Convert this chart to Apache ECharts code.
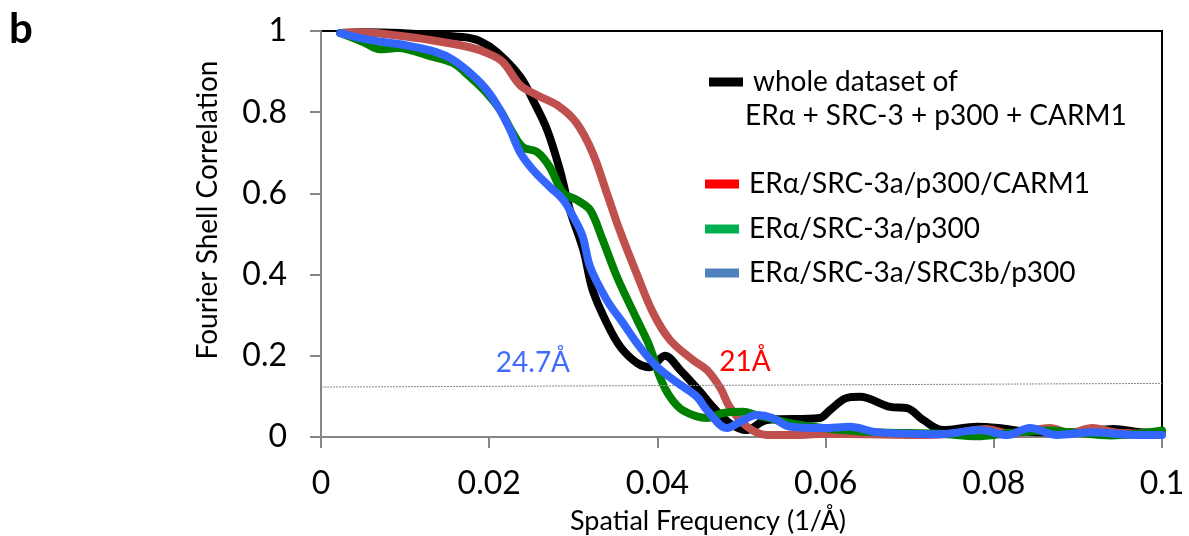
<!DOCTYPE html>
<html>
<head>
<meta charset="utf-8">
<script src="https://cdn.jsdelivr.net/npm/echarts@6/dist/echarts.min.js"></script>
<style>
    html, body {margin: 0; padding: 0; background: #fff;}
    #fscChart {width: 1189px; height: 536px;}
</style>
</head>
<body>
<div id="fscChart"></div>
<script>
// FSC curves, [spatial frequency (1/Å), correlation]
const wholeData = [[0.0023, 0.995], [0.005, 0.997], [0.0094, 0.995], [0.0169, 0.985], [0.0189, 0.975], [0.0209, 0.948]
    , [0.0237, 0.887], [0.0252, 0.83], [0.0269, 0.756], [0.0284, 0.658], [0.0296, 0.559], [0.0312, 0.46], [0.0323, 0.362]
    , [0.034, 0.28], [0.0356, 0.222], [0.0376, 0.182], [0.0391, 0.172], [0.0409, 0.2], [0.0427, 0.165], [0.0451, 0.111]
    , [0.0466, 0.074], [0.0486, 0.034], [0.0506, 0.017], [0.053, 0.042], [0.0593, 0.047], [0.0605, 0.066], [0.0625, 0.096]
    , [0.0641, 0.099], [0.0677, 0.074], [0.0697, 0.071], [0.0716, 0.042], [0.074, 0.017], [0.078, 0.025]
    , [0.0805, 0.022], [0.085, 0.012], [0.09, 0.012], [0.0942, 0.02], [0.0974, 0.012], [0.1, 0.01]];
const carm1Data = [[0.0023, 0.995], [0.005, 0.997], [0.0085, 0.99], [0.013, 0.978], [0.0177, 0.96], [0.0197, 0.946]
    , [0.0216, 0.924], [0.0237, 0.866], [0.0257, 0.842], [0.0284, 0.813], [0.0304, 0.773], [0.0323, 0.7], [0.034, 0.6]
    , [0.0355, 0.51], [0.0375, 0.404], [0.0395, 0.305], [0.0415, 0.239], [0.0442, 0.19], [0.0459, 0.165], [0.0475, 0.12]
    , [0.0486, 0.074], [0.0507, 0.025], [0.053, 0.005], [0.057, 0.005], [0.06, 0.008], [0.07, 0.005], [0.075, 0.008]
    , [0.079, 0.02], [0.082, 0.008], [0.0867, 0.022], [0.089, 0.01], [0.0917, 0.022], [0.095, 0.01], [0.1, 0.008]];
const p300Data = [[0.0023, 0.995], [0.005, 0.973], [0.007, 0.955], [0.0091, 0.958], [0.013, 0.938], [0.0157, 0.921]
    , [0.0177, 0.887], [0.0197, 0.847], [0.0213, 0.805], [0.0228, 0.749], [0.024, 0.714], [0.0257, 0.702], [0.0272, 0.665]
    , [0.0288, 0.601], [0.0304, 0.584], [0.032, 0.559], [0.0335, 0.485], [0.0352, 0.394], [0.0376, 0.288], [0.0391, 0.222]
    , [0.0403, 0.148], [0.0415, 0.099], [0.043, 0.066], [0.0459, 0.047], [0.0478, 0.059], [0.0502, 0.062], [0.0518, 0.054]
    , [0.0558, 0.034], [0.0597, 0.022], [0.0656, 0.012], [0.0736, 0.008], [0.078, 0.002], [0.082, 0.01], [0.0865, 0.016]
    , [0.089, 0.012], [0.094, 0.004], [0.1, 0.016]];
const src3bData = [[0.0023, 0.995], [0.0058, 0.978], [0.0098, 0.966], [0.0137, 0.948], [0.0157, 0.929], [0.0177, 0.897]
    , [0.0197, 0.855], [0.0213, 0.805], [0.0225, 0.756], [0.0237, 0.7], [0.0252, 0.658], [0.0272, 0.616], [0.0288, 0.584]
    , [0.03, 0.542], [0.0311, 0.495], [0.032, 0.419], [0.034, 0.337], [0.0359, 0.281], [0.0379, 0.222], [0.04, 0.172]
    , [0.0423, 0.135], [0.0447, 0.099], [0.0459, 0.066], [0.0483, 0.022], [0.0498, 0.037], [0.0518, 0.054], [0.0537, 0.047]
    , [0.0558, 0.025], [0.0597, 0.022], [0.0629, 0.025], [0.0661, 0.012], [0.0736, 0.007], [0.0784, 0.017], [0.0816, 0.005]
    , [0.0843, 0.022], [0.0875, 0.005], [0.0918, 0.012], [0.0966, 0.005], [0.1, 0.005]];

const seriesNames = ['whole dataset of', 'ERα/SRC-3a/p300/CARM1', 'ERα/SRC-3a/p300', 'ERα/SRC-3a/SRC3b/p300'];
const lineColors = ['#000000', '#c0504d', '#008000', '#3366ff'];
const legendColors = ['#000000', '#ff0000', '#00b050', '#4f81bd'];
const xTicks = [0, 0.02, 0.04, 0.06, 0.08, 0.1];
const yTicks = [0, 0.2, 0.4, 0.6, 0.8, 1];
// threshold line, read as drawn (slightly tilted)
const thresholdLine = [[0, 0.123], [0.1, 0.132]];
const resolutionNotes = [
    {text: '24.7Å', at: [0.0252, 0.182], color: '#3f6bff', series: 3}
    , {text: '21Å', at: [0.0504, 0.185], color: '#ff0000', series: 1}
];

const font = 'Lato, "Open Sans", sans-serif';
const chart = echarts.init(document.getElementById('fscChart'), null, {renderer: 'canvas'});

const allData = [wholeData, carm1Data, p300Data, src3bData];
const legendTops = [60, 162, 207, 251];
const legendLefts = [704, 700, 700, 700];

const series = allData.map(function (data, i) {
    const s = {
        name: seriesNames[i]
        , type: 'line'
        , data: data
        , smooth: 0.35
        , showSymbol: false
        , z: 2 + i
        , lineStyle: {color: lineColors[i], width: 8, cap: 'round', join: 'round'}
        , itemStyle: {color: legendColors[i]}
        , emphasis: {disabled: true}
    };
    const notes = resolutionNotes.filter(function (n) { return n.series === i; });
    if (notes.length) {
        s.markPoint = {
            symbol: 'circle'
            , symbolSize: 1
            , itemStyle: {color: 'rgba(0,0,0,0)'}
            , label: {show: true, position: 'inside', fontFamily: font, fontSize: 28}
            , data: notes.map(function (n) {
                return {coord: n.at, label: {formatter: n.text, color: n.color}};
            })
        };
    }
    return s;
});
series[0].markLine = {
    silent: true
    , symbol: 'none'
    , label: {show: false}
    , lineStyle: {color: '#888', width: 1, type: [2, 1]}
    , data: [[{coord: thresholdLine[0]}, {coord: thresholdLine[1]}]]
};

const legends = seriesNames.map(function (name, i) {
    return {
        left: legendLefts[i]
        , top: legendTops[i]
        , orient: 'vertical'
        , icon: 'rect'
        , itemWidth: 34
        , itemHeight: 9
        , selectedMode: false
        , textStyle: {fontFamily: font, fontSize: 28, color: '#000', lineHeight: 34, padding: [0, 0, 0, 5]}
        , data: [{name: name, itemStyle: {color: legendColors[i]}}]
    };
});

chart.setOption({
    animation: false
    , backgroundColor: '#fff'
    , grid: {left: 321, right: 27, top: 31, bottom: 99, show: true, borderColor: '#000', borderWidth: 2}
    , legend: legends
    , xAxis: {
        type: 'value'
        , min: xTicks[0]
        , max: xTicks[xTicks.length - 1]
        , interval: 0.02
        , axisLine: {show: true, onZero: false, lineStyle: {color: '#868686', width: 2}}
        , axisTick: {show: true, length: 11, lineStyle: {color: '#868686', width: 2}}
        , axisLabel: {margin: 31, fontFamily: font, fontSize: 32, color: '#000'}
        , splitLine: {show: false}
    }
    , yAxis: {
        type: 'value'
        , min: yTicks[0]
        , max: yTicks[yTicks.length - 1]
        , interval: 0.2
        , axisLine: {show: true, onZero: false, lineStyle: {color: '#868686', width: 2}}
        , axisTick: {show: true, length: 11, lineStyle: {color: '#868686', width: 2}}
        , axisLabel: {margin: 34, fontFamily: font, fontSize: 32, color: '#000'}
        , splitLine: {show: false}
    }
    , graphic: [
        {type: 'text', left: 9, top: 8, style: {text: 'b', fontFamily: font, fontWeight: 'bold', fontSize: 42, fill: '#000'}}
        , {type: 'text', x: 208, y: 210, rotation: Math.PI / 2
            , style: {text: 'Fourier Shell Correlation', fontFamily: font, fontSize: 28, fill: '#000', align: 'center', verticalAlign: 'middle'}}
        , {type: 'text', x: 708, y: 521
            , style: {text: 'Spatial Frequency (1/Å)', fontFamily: font, fontSize: 27, fill: '#000', align: 'center', verticalAlign: 'middle'}}
        , {type: 'text', x: 745, y: 116
            , style: {text: 'ERα + SRC-3 + p300 + CARM1', fontFamily: font, fontSize: 28, fill: '#000', verticalAlign: 'middle'}}
    ]
    , series: series
});
</script>
</body>
</html>
